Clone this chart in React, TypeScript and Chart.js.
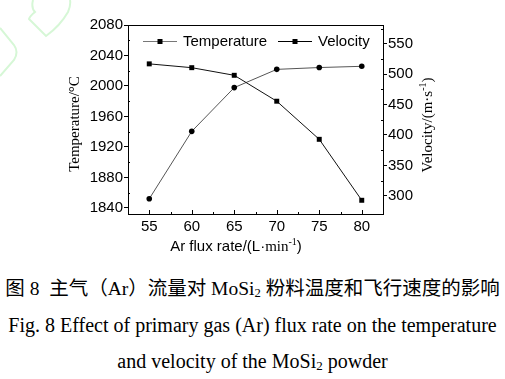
import React, { useEffect, useRef } from 'react';
import { Chart, registerables } from 'chart.js';

Chart.register(...registerables);

const fluxRates = [55, 60, 65, 70, 75, 80];
const temperature = [2029, 2024, 2014, 1980, 1930, 1850];
const velocity = [295, 406, 478, 508, 511, 513];
const seriesNames = ['Temperature', 'Velocity'];
const tempTicks = [1840, 1880, 1920, 1960, 2000, 2040, 2080];
const velTicks = [300, 350, 400, 450, 500, 550];
const fluxTicks = [55, 60, 65, 70, 75, 80];
const tempMinor = [1860, 1900, 1940, 1980, 2020, 2060];
const velMinor = [325, 375, 425, 475, 525, 575];
const fluxMinor = [57.5, 62.5, 67.5, 72.5, 77.5];

const SANS = '"Liberation Sans", Arial, sans-serif';
const SERIF = '"Liberation Serif", "Times New Roman", serif';

type Piece = { text: string; font: string; dy?: number };

function drawRich(ctx: CanvasRenderingContext2D, pieces: Piece[], cx: number, cy: number, rot: number) {
  ctx.save();
  ctx.translate(cx, cy);
  ctx.rotate(rot);
  let total = 0;
  const widths = pieces.map((p) => {
    ctx.font = p.font;
    const w = ctx.measureText(p.text).width;
    total += w;
    return w;
  });
  let x = -total / 2;
  ctx.textBaseline = 'middle';
  ctx.textAlign = 'left';
  ctx.fillStyle = '#000';
  pieces.forEach((p, i) => {
    ctx.font = p.font;
    ctx.fillText(p.text, x, p.dy || 0);
    x += widths[i];
  });
  ctx.restore();
}

const decorPlugin = {
  id: 'decor',
  afterDraw(chart: any) {
    const ctx: CanvasRenderingContext2D = chart.ctx;
    const { left, right, top, bottom } = chart.chartArea;
    const xs = chart.scales.x;
    const yl = chart.scales.y;
    const yr = chart.scales.y1;
    ctx.save();
    ctx.strokeStyle = '#000';
    ctx.lineWidth = 1;
    ctx.beginPath();
    ctx.moveTo(left, top + 0.5);
    ctx.lineTo(right + 0.5, top + 0.5);
    ctx.stroke();
    ctx.beginPath();
    fluxTicks.forEach((v) => {
      const px = Math.round(xs.getPixelForValue(v)) + 0.5;
      ctx.moveTo(px, bottom);
      ctx.lineTo(px, bottom - 4);
    });
    fluxMinor.forEach((v) => {
      const px = Math.round(xs.getPixelForValue(v)) + 0.5;
      ctx.moveTo(px, bottom);
      ctx.lineTo(px, bottom - 2);
    });
    tempMinor.forEach((v) => {
      const py = Math.round(yl.getPixelForValue(v)) + 0.5;
      ctx.moveTo(left, py);
      ctx.lineTo(left + 2, py);
    });
    velMinor.forEach((v) => {
      const py = Math.round(yr.getPixelForValue(v)) + 0.5;
      if (py < top) return;
      ctx.moveTo(right, py);
      ctx.lineTo(right - 2, py);
    });
    ctx.stroke();

    drawRich(ctx, [{ text: 'Temperature/°C', font: `15px ${SERIF}` }], 75, 124, -Math.PI / 2);
    drawRich(
      ctx,
      [
        { text: 'Velocity/(m·s', font: `15px ${SERIF}` },
        { text: '-1', font: `10px ${SERIF}`, dy: -5 },
        { text: ')', font: `15px ${SERIF}` },
      ],
      428,
      125,
      -Math.PI / 2
    );
    drawRich(
      ctx,
      [
        { text: 'Ar flux rate/(L·', font: `15px ${SANS}` },
        { text: 'min', font: `15px ${SERIF}` },
        { text: '-1', font: `10px ${SERIF}`, dy: -5 },
        { text: ')', font: `15px ${SANS}` },
      ],
      236,
      247,
      0
    );

    const ly = 41.5;
    const entries = [
      { x0: 143, color: '#777', name: seriesNames[0] },
      { x0: 278, color: '#000', name: seriesNames[1] },
    ];
    entries.forEach((e) => {
      ctx.strokeStyle = e.color;
      ctx.beginPath();
      ctx.moveTo(e.x0, ly);
      ctx.lineTo(e.x0 + 34, ly);
      ctx.stroke();
      ctx.fillStyle = '#000';
      ctx.fillRect(e.x0 + 14.5, ly - 2.5, 5, 5);
      ctx.font = `15px ${SANS}`;
      ctx.textBaseline = 'middle';
      ctx.textAlign = 'left';
      ctx.fillText(e.name, e.x0 + 40, ly);
    });
    ctx.restore();
  },
};

const plain = (v: any) => String(v);

export default function App() {
  const ref = useRef<HTMLCanvasElement>(null);
  useEffect(() => {
    if (!ref.current) return;
    const chart = new Chart(ref.current, {
      type: 'line',
      data: {
        datasets: [
          {
            label: seriesNames[0],
            data: fluxRates.map((x, i) => ({ x, y: temperature[i] })),
            yAxisID: 'y',
            borderColor: '#111',
            backgroundColor: '#000',
            borderWidth: 1,
            pointStyle: 'rect',
            pointRadius: 3.5,
            pointBorderWidth: 0,
            tension: 0,
          },
          {
            label: seriesNames[1],
            data: fluxRates.map((x, i) => ({ x, y: velocity[i] })),
            yAxisID: 'y1',
            borderColor: '#555',
            backgroundColor: '#000',
            borderWidth: 1,
            pointStyle: 'circle',
            pointRadius: 2.8,
            pointBorderWidth: 0,
            tension: 0,
          },
        ],
      },
      options: {
        animation: false,
        responsive: false,
        layout: { padding: { top: 25, left: 0, right: 0, bottom: 0 } },
        plugins: { legend: { display: false }, tooltip: { enabled: false }, title: { display: false } },
        scales: {
          x: {
            type: 'linear',
            min: 52.5,
            max: 82.5,
            afterBuildTicks: (s: any) => {
              s.ticks = fluxTicks.map((v) => ({ value: v }));
            },
            afterFit: (s: any) => {
              s.height = 265 - 214;
              s.paddingLeft = 0;
              s.paddingRight = 0;
            },
            grid: { drawOnChartArea: false, drawTicks: false },
            border: { color: '#000', width: 1 },
            ticks: { color: '#000', font: { family: SANS, size: 15 }, padding: 4, maxRotation: 0, autoSkip: false, callback: plain },
          },
          y: {
            type: 'linear',
            position: 'left',
            min: 1832,
            max: 2080,
            afterBuildTicks: (s: any) => {
              s.ticks = tempTicks.map((v) => ({ value: v }));
            },
            afterFit: (s: any) => {
              s.width = 128;
              s.paddingTop = 0;
              s.paddingBottom = 0;
            },
            grid: { drawOnChartArea: false, drawTicks: true, tickLength: 4, color: '#000' },
            border: { color: '#000', width: 1 },
            ticks: { color: '#000', font: { family: SANS, size: 15 }, padding: 1, autoSkip: false, callback: plain },
          },
          y1: {
            type: 'linear',
            position: 'right',
            min: 270,
            max: 581,
            afterBuildTicks: (s: any) => {
              s.ticks = velTicks.map((v) => ({ value: v }));
            },
            afterFit: (s: any) => {
              s.width = 505 - 383;
              s.paddingTop = 0;
              s.paddingBottom = 0;
            },
            grid: { drawOnChartArea: false, drawTicks: true, tickLength: 4, color: '#000' },
            border: { color: '#000', width: 1 },
            ticks: { color: '#000', font: { family: SANS, size: 15 }, padding: 1, autoSkip: false, callback: plain },
          },
        },
      },
      plugins: [decorPlugin],
    } as any);
    return () => chart.destroy();
  }, []);

  const sub = { fontSize: '0.65em', verticalAlign: '-0.15em' } as React.CSSProperties;
  const line = (top: number, size: number): React.CSSProperties => ({
    position: 'absolute',
    left: 0,
    top,
    width: 505,
    height: 30,
    lineHeight: '30px',
    textAlign: 'center',
    fontSize: size,
    whiteSpace: 'nowrap',
  });
  return (
    <div style={{ position: 'fixed', left: 0, top: 0, width: 505, height: 379, background: '#fff', overflow: 'hidden' }}>
      <svg width={90} height={90} style={{ position: 'absolute', left: 0, top: 0 }}>
        <path d="M33 0 Q31 8 35 12 Q30 16 29 19 L46 36 Q60 26 68 12 Q71 5 70 0" fill="none" stroke="#d6f7d6" strokeWidth={2} />
        <path d="M0 28 L14 45 Q19 52 14 60 L0 76" fill="none" stroke="#d6f7d6" strokeWidth={2} />
      </svg>
      <canvas ref={ref} width={505} height={265} style={{ position: 'absolute', left: 0, top: 0, width: 505, height: 265 }} />
      <div style={{ fontFamily: `"Liberation Serif", "Noto Sans CJK SC", serif`, color: '#000' }}>
        <div style={line(274, 19.5)}>
          图 8&nbsp; 主气（Ar）流量对 MoSi<span style={sub}>2</span> 粉料温度和飞行速度的影响
        </div>
        <div style={line(310, 20)}>Fig. 8 Effect of primary gas (Ar) flux rate on the temperature</div>
        <div style={line(346, 20)}>
          and velocity of the MoSi<span style={sub}>2</span> powder
        </div>
      </div>
    </div>
  );
}
